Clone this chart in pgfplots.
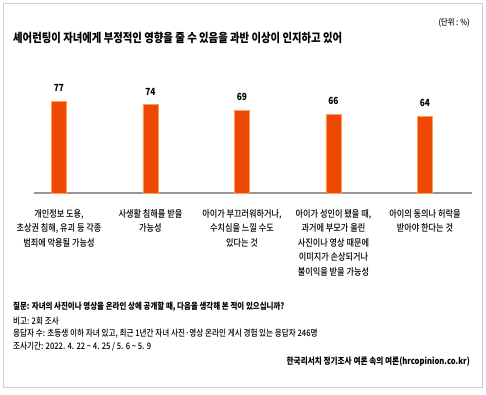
\documentclass[border=0pt]{standalone}
\usepackage{pgfplots}
\pgfplotsset{compat=1.18}
\usepackage{fontspec}
\setmainfont{Noto Sans CJK KR}[FakeStretch=0.85]
\newfontfamily\krm{Noto Sans CJK KR Medium}[FakeStretch=0.85]
\definecolor{barc}{RGB}{238,72,4}
\definecolor{bare}{RGB}{250,160,80}
\definecolor{axc}{RGB}{150,150,150}
\definecolor{frc}{RGB}{205,205,205}
\begin{document}
\begin{tikzpicture}
\path[use as bounding box] (0pt,0pt) rectangle (486pt,395pt);
\fill[white] (0pt,0pt) rectangle (486pt,395pt);
\draw[frc, line width=1pt] (3pt,7pt) rectangle (482pt,391pt);
\node[anchor=west, inner sep=0pt, font=\bfseries\fontsize{12.2}{14}\selectfont] at (13pt,357pt) {셰어런팅이 자녀에게 부정적인 영향을 줄 수 있음을 과반 이상이 인지하고 있어};
\node[anchor=east, inner sep=0pt, font=\krm\fontsize{8.5}{9}\selectfont] at (470pt,372pt) {(단위 : \%)};
\begin{axis}[
  at={(34pt,202pt)}, anchor=south west,
  scale only axis, width=438pt, height=107.5pt,
  xmin=-0.273, xmax=4.514, ymin=0, ymax=90,
  axis x line*=bottom, axis y line=none,
  x axis line style={axc, line width=2.5pt, -},
  major tick length=0pt,
  ytick=\empty,
  xtick={0,1,2,3,4},
  xticklabels={{개인정보 도용,\\초상권 침해, 유괴 등 각종\\범죄에 악용될 가능성},
               {사생활 침해를 받을\\가능성},
               {아이가 부끄러워하거나,\\수치심을 느낄 수도\\있다는 것},
               {아이가 성인이 됐을 때,\\과거에 부모가 올린\\사진이나 영상 때문에\\이미지가 손상되거나\\불이익을 받을 가능성},
               {아이의 동의나 허락을\\받아야 한다는 것}},
  xticklabel style={align=center, anchor=north, yshift=-12.5pt, font=\krm\fontsize{9.6}{14.6}\selectfont},
  /pgf/number format/assume math mode=true,
  nodes near coords,
  nodes near coords style={font=\bfseries\fontsize{9.8}{11}\selectfont, black, yshift=6pt},
  clip=false,
]
\addplot[ybar, bar width=15pt, fill=barc, draw=bare, line width=0.5pt] coordinates {(0,77) (1,74) (2,69) (3,66) (4,64)};
\end{axis}
\begin{scope}[every node/.style={anchor=west, inner sep=0pt, font=\krm\fontsize{8.95}{9}\selectfont}]
\node[font=\bfseries\fontsize{8.8}{9}\selectfont] at (13pt,88pt) {질문: 자녀의 사진이나 영상을 온라인 상에 공개할 때, 다음을 생각해 본 적이 있으십니까?};
\node at (13pt,74pt) {비고: 2회 조사};
\node at (13pt,61pt) {응답자 수: 초등생 이하 자녀 있고, 최근 1년간 자녀 사진·영상 온라인 게시 경험 있는 응답자 246명};
\node at (13pt,48pt) {조사기간: 2022. 4. 22 \textasciitilde{} 4. 25 / 5. 6 \textasciitilde{} 5. 9};
\node[anchor=east, font=\bfseries\fontsize{9}{9}\selectfont] at (470pt,33pt) {한국리서치 정기조사 여론 속의 여론(hrcopinion.co.kr)};
\end{scope}
\end{tikzpicture}
\end{document}
